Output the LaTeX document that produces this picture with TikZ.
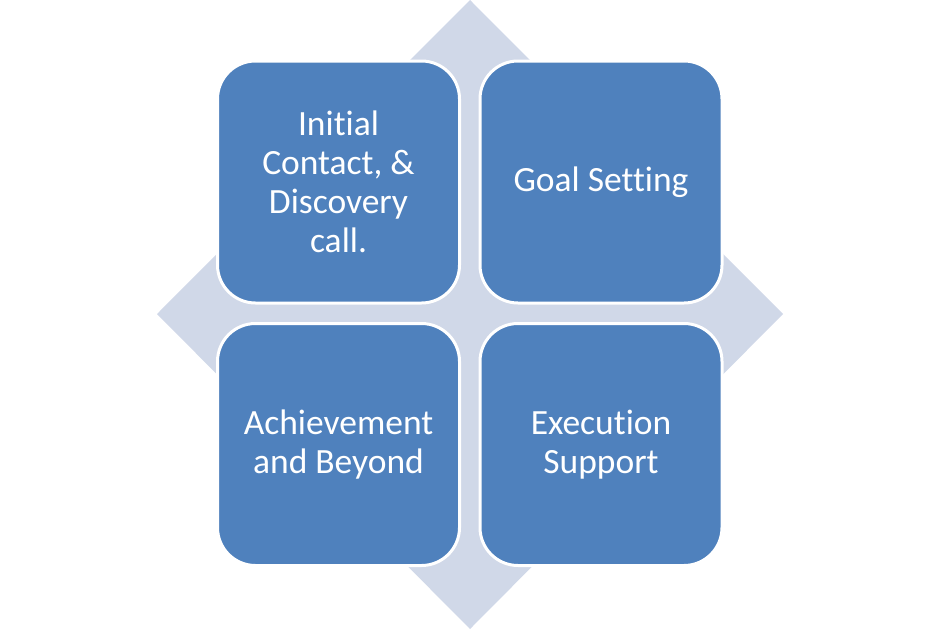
\documentclass[tikz,border=0pt]{standalone}
\usepackage{fontspec}
\setmainfont{Carlito}[Ligatures=NoCommon]
\definecolor{boxblue}{HTML}{4F81BD}
\definecolor{diamondgray}{HTML}{D0D8E8}
\begin{document}
\begin{tikzpicture}[x=1pt,y=-1pt,
  quad/.style={draw=white,line width=3pt,fill=boxblue,rounded corners=38pt,
    minimum width=242pt,minimum height=242pt,inner sep=0pt,text=white,
    align=center,font=\fontsize{35.5}{39}\selectfont}]
\useasboundingbox (0,0) rectangle (941,629);
\fill[diamondgray] (470,0) -- (783,314) -- (470,629) -- (157,314) -- cycle;
\node[quad] (tl) at (338.5,182) {Initial\\Contact, \&\\Discovery\\call.};
\node[quad] (tr) at (601,182) {Goal Setting};
\node[quad] (bl) at (338.5,444.5) {Achievement\\and Beyond};
\node[quad] (br) at (601,444.5) {Execution\\Support};
\end{tikzpicture}
\end{document}
